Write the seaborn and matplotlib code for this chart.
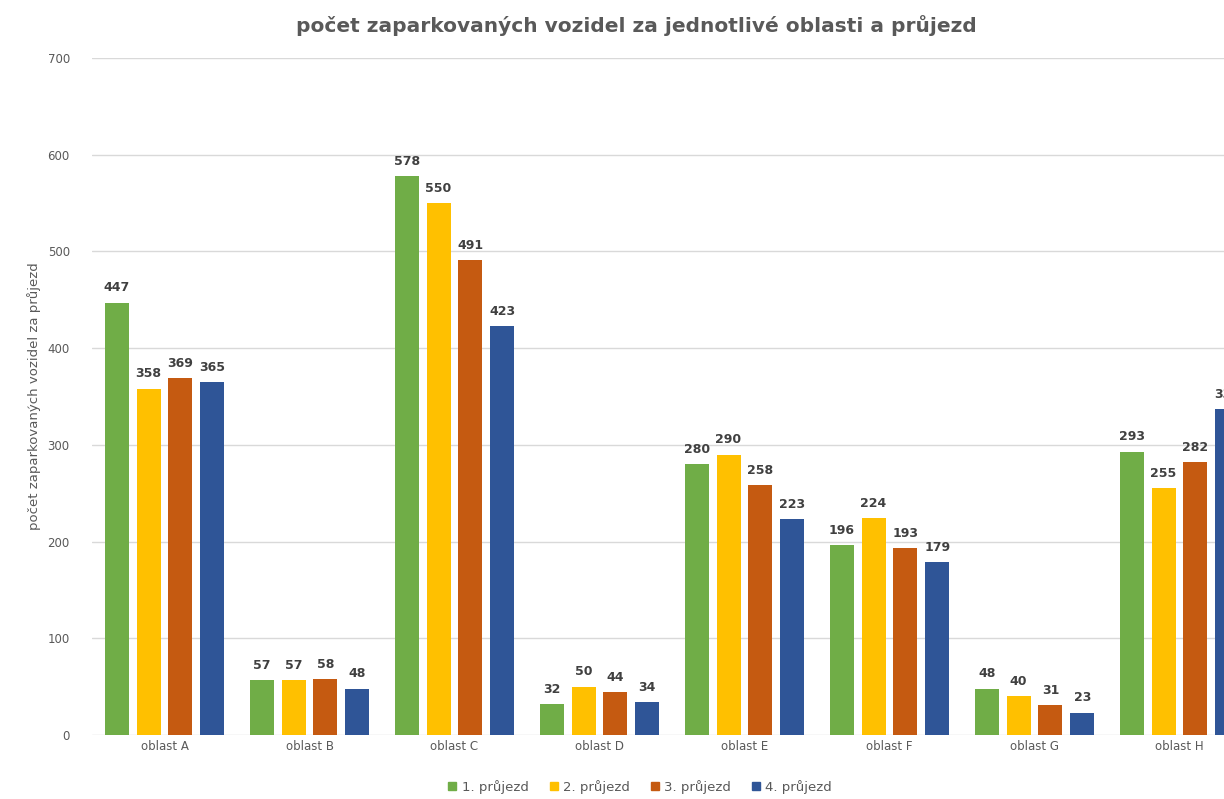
import pandas as pd
import matplotlib
matplotlib.use("Agg")
import matplotlib.pyplot as plt
import seaborn as sns

# data
oblasti = ["oblast A", "oblast B", "oblast C", "oblast D",
           "oblast E", "oblast F", "oblast G", "oblast H"]
prujezdy = ["1. průjezd", "2. průjezd", "3. průjezd", "4. průjezd"]
prujezd_1 = [447, 57, 578, 32, 280, 196, 48, 293]
prujezd_2 = [358, 57, 550, 50, 290, 224, 40, 255]
prujezd_3 = [369, 58, 491, 44, 258, 193, 31, 282]
prujezd_4 = [365, 48, 423, 34, 223, 179, 23, 337]
barvy = ["#70AD47", "#FFC000", "#C55A11", "#2F5597"]

rows = []
for name, vals in zip(prujezdy, [prujezd_1, prujezd_2, prujezd_3, prujezd_4]):
    for o, v in zip(oblasti, vals):
        rows.append({"oblast": o, "průjezd": name, "počet": v})
df = pd.DataFrame(rows)

sns.set_theme(style="white")
plt.rcParams["font.family"] = ["DejaVu Sans"]
grey = "#595959"

fig = plt.figure(figsize=(12.24, 7.99), dpi=100)
# axes deliberately run past the right edge, as in the cropped original
ax = fig.add_axes([92 / 1224, 64 / 799, 1160 / 1224, 677 / 799])

sns.barplot(data=df, x="oblast", y="počet", hue="průjezd", order=oblasti,
            hue_order=prujezdy, palette=barvy, width=0.88, gap=0.25,
            saturation=1, linewidth=0, ax=ax, legend=False)

for cont in ax.containers:
    ax.bar_label(cont, padding=6, fontsize=9, color="#404040", fontweight="semibold")

ax.set_ylim(0, 700)
ax.set_xlim(-0.5, 7.5)
ax.set_yticks(range(0, 701, 100))
ax.yaxis.grid(True, color="#D9D9D9", linewidth=1)
ax.set_axisbelow(True)
for s in ax.spines.values():
    s.set_visible(False)
ax.tick_params(axis="both", length=0, labelsize=8.5, labelcolor=grey)
ax.tick_params(axis="y", pad=16)
ax.set_xlabel("")
ax.set_ylabel("počet zaparkovaných vozidel za průjezd", fontsize=9.5, color=grey, labelpad=5)

fig.text(0.52, 0.968, "počet zaparkovaných vozidel za jednotlivé oblasti a průjezd",
         ha="center", va="center", fontsize=14.5, fontweight="bold", color=grey)

handles = [plt.Rectangle((0, 0), 1, 1, color=c) for c in barvy]
fig.legend(handles, prujezdy, loc="lower center", bbox_to_anchor=(0.523, -0.008),
           ncol=4, frameon=False, fontsize=9.5, labelcolor=grey,
           handlelength=0.6, handleheight=0.6, handletextpad=0.4, columnspacing=1.6)

fig.savefig("out.png", dpi=100)
